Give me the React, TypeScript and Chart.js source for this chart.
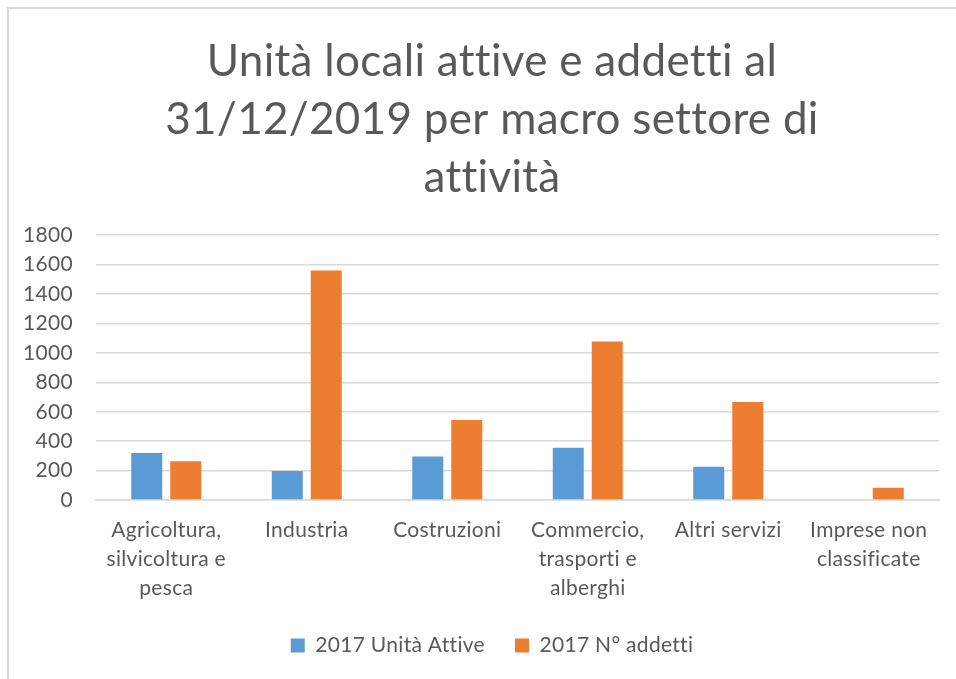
import React, { useEffect, useRef } from "react";
import { Chart, registerables } from "chart.js";

Chart.register(...registerables);

const titleLines = ["Unità locali attive e addetti al", "31/12/2019 per macro settore di", "attività"];
const categoryLabels = [
  ["Agricoltura,", "silvicoltura e", "pesca"],
  ["Industria"],
  ["Costruzioni"],
  ["Commercio,", "trasporti e", "alberghi"],
  ["Altri servizi"],
  ["Imprese non", "classificate"],
];
const seriesNames = ["2017 Unità Attive", "2017 N° addetti"];
const unitaAttive = [320, 197, 296, 355, 226, null];
const addetti = [264, 1560, 545, 1078, 667, 84];
const yTicks = [0, 200, 400, 600, 800, 1000, 1200, 1400, 1600, 1800];

const FONT = "Lato, 'Open Sans', sans-serif";
const TEXT = "#595959";

const noLigatures = {
  id: "noLigatures",
  beforeInit(chart: any) {
    chart.ctx.letterSpacing = "0.3px";
  },
  beforeLayout(chart: any) {
    chart.ctx.letterSpacing = "0.3px";
  },
  afterLayout(chart: any) {
    // centre title and legend on the reference's horizontal midpoint
    if (chart.titleBlock) chart.titleBlock.left += 20;
    if (chart.legend) chart.legend.left += 20;
  },
  beforeDraw(chart: any) {
    chart.ctx.letterSpacing = "0.3px";
  },
};

export default function App() {
  const ref = useRef<HTMLCanvasElement | null>(null);
  useEffect(() => {
    if (!ref.current) return;
    const chart = new Chart(ref.current, {
      type: "bar",
      plugins: [noLigatures],
      data: {
        labels: categoryLabels,
        datasets: [
          {
            label: seriesNames[0],
            data: unitaAttive,
            backgroundColor: "#5b9bd5",
            categoryPercentage: 0.555,
            barPercentage: 0.795,
          },
          {
            label: seriesNames[1],
            data: addetti,
            backgroundColor: "#ed7d31",
            categoryPercentage: 0.555,
            barPercentage: 0.795,
          },
        ],
      },
      options: {
        animation: false,
        responsive: false,
        maintainAspectRatio: false,
        layout: { padding: { left: 25, right: 17, top: 0, bottom: 13 } },
        plugins: {
          title: {
            display: true,
            text: titleLines,
            color: TEXT,
            font: { family: FONT, size: 44, weight: "normal", lineHeight: 1.32 },
            padding: { top: 33, bottom: 28 },
          },
          legend: {
            position: "bottom",
            labels: {
              color: TEXT,
              font: { family: FONT, size: 21 },
              boxWidth: 14,
              boxHeight: 14,
              padding: 30,
            },
          },
          tooltip: { enabled: false },
        },
        scales: {
          x: {
            grid: { display: false, drawTicks: false },
            border: { display: true, color: "#d9d9d9", width: 1.5 },
            afterFit: (axis: any) => {
              axis.height = axis.height - 14;
            },
            ticks: {
              color: TEXT,
              font: { family: FONT, size: 21, lineHeight: 1.38 },
              padding: 16,
              maxRotation: 0,
              autoSkip: false,
            },
          },
          y: {
            min: 0,
            max: 1800,
            afterBuildTicks: (axis: any) => {
              axis.ticks = yTicks.map((v) => ({ value: v }));
            },
            afterFit: (axis: any) => {
              axis.width = 71;
            },
            grid: { color: "#d9d9d9", lineWidth: 1.5, drawTicks: false },
            border: { display: false },
            ticks: {
              color: TEXT,
              font: { family: FONT, size: 21 },
              padding: 23,
              callback: (v: any) => String(v),
            },
          },
        },
      },
    });
    return () => chart.destroy();
  }, []);
  return (
    <div style={{ position: "absolute", left: 0, top: 0, width: 956, height: 679, background: "#fff" }}>
      <canvas ref={ref} width={956} height={679} style={{ position: "absolute", left: 0, top: 0 }} />
      <div
        style={{
          position: "absolute",
          left: 7,
          top: 7,
          right: 0,
          bottom: 0,
          borderLeft: "2px solid #d9d9d9",
          borderTop: "2px solid #d9d9d9",
          pointerEvents: "none",
        }}
      />
    </div>
  );
}
